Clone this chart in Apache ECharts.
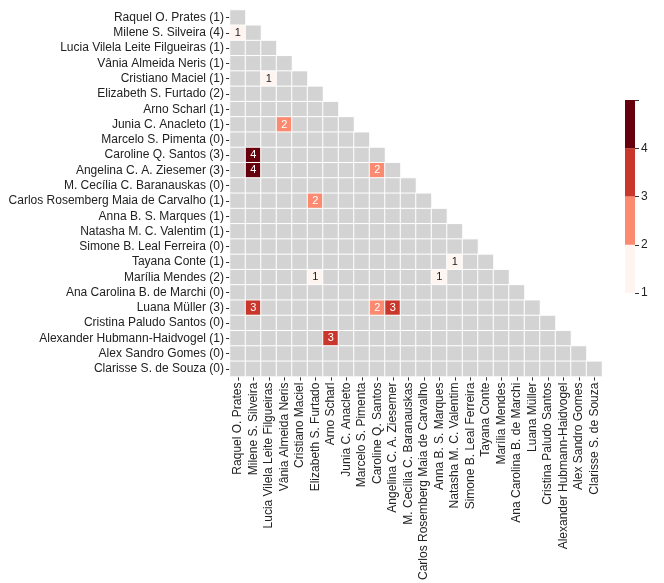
<!DOCTYPE html>
<html><head><meta charset="utf-8">
<script src="https://cdn.jsdelivr.net/npm/echarts@6/dist/echarts.min.js"></script>
<style>html,body{margin:0;padding:0;background:#fff}#c{width:664px;height:583px}</style>
</head><body><div id="c"></div>
<script>
const names = ["Raquel O. Prates","Milene S. Silveira","Lucia Vilela Leite Filgueiras","Vânia Almeida Neris","Cristiano Maciel","Elizabeth S. Furtado","Arno Scharl","Junia C. Anacleto","Marcelo S. Pimenta","Caroline Q. Santos","Angelina C. A. Ziesemer","M. Cecília C. Baranauskas","Carlos Rosemberg Maia de Carvalho","Anna B. S. Marques","Natasha M. C. Valentim","Simone B. Leal Ferreira","Tayana Conte","Marília Mendes","Ana Carolina B. de Marchi","Luana Müller","Cristina Paludo Santos","Alexander Hubmann-Haidvogel","Alex Sandro Gomes","Clarisse S. de Souza"];
const counts = [1,4,1,1,1,2,1,1,0,3,3,0,1,1,1,0,1,2,0,3,0,1,0,0];
// nonzero links: [rowIndex, colIndex, value]
const links = [[1,0,1],[4,2,1],[7,3,2],[9,1,4],[10,1,4],[10,9,2],[12,5,2],[16,14,1],[17,5,1],[17,13,1],[19,1,3],[19,9,2],[19,10,3],[21,6,3]];
const legendTicks = [1,2,3,4];
const binColors = ['#fff5f0','#fb8a71','#c9372c','#67000d'];

const yLabels = names.map((n,i)=>n+' ('+counts[i]+')');
const lookup = {};
links.forEach(l=>{lookup[l[0]+'_'+l[1]] = l[2];});
const data = [];
for (let i=0;i<names.length;i++){
  for (let j=0;j<=i;j++){
    const v = lookup[i+'_'+j] || 0;
    data.push({value:[j,i,v], label:{color: v===1 ? '#222' : '#fff'}});
  }
}
const chart = echarts.init(document.getElementById('c'));
const font = 'Liberation Sans, Arial, sans-serif';
chart.setOption({
  animation:false,
  backgroundColor:'#fff',
  grid:[
    {left:230, top:10, width:372, height:373},
    {left:625, top:100, width:10, height:193}
  ],
  xAxis:[
    {type:'category', gridIndex:0, data:names, position:'bottom',
     axisLine:{show:false}, axisTick:{show:true, alignWithLabel:true, length:4, lineStyle:{color:'#333'}},
     axisLabel:{rotate:90, interval:0, fontSize:12, color:'#222', fontFamily:font, margin:6},
     splitLine:{show:false}},
    {type:'category', gridIndex:1, data:['c'], show:false}
  ],
  yAxis:[
    {type:'category', gridIndex:0, data:yLabels, inverse:true,
     axisLine:{show:false}, axisTick:{show:true, alignWithLabel:true, length:4, lineStyle:{color:'#333'}},
     axisLabel:{interval:0, fontSize:12, color:'#222', fontFamily:font, margin:6},
     splitLine:{show:false}},
    {type:'value', gridIndex:1, min:1, max:5, interval:1, position:'right',
     axisLine:{show:false}, splitLine:{show:false},
     axisTick:{show:true, length:4, lineStyle:{color:'#333'}, inside:false},
     axisLabel:{fontSize:12, color:'#222', fontFamily:font, margin:6,
       formatter:v=> legendTicks.indexOf(v)>=0 ? String(v) : ''}}
  ],
  visualMap:{show:false, type:'piecewise', seriesIndex:0, dimension:2,
    pieces:[{value:0,color:'#d3d3d3'},{value:1,color:binColors[0]},{value:2,color:binColors[1]},{value:3,color:binColors[2]},{value:4,color:binColors[3]}]},
  series:[
    {type:'heatmap', xAxisIndex:0, yAxisIndex:0, data:data,
     itemStyle:{borderColor:'#fff', borderWidth:1},
     label:{show:true, fontSize:11, fontFamily:font,
       formatter:p=> p.value[2]>0 ? String(p.value[2]) : ''},
     emphasis:{disabled:true}},
    {type:'bar', xAxisIndex:1, yAxisIndex:1, stack:'cb', data:[1], barWidth:'100%', itemStyle:{color:'transparent'}, silent:true},
    ...binColors.map(c=>({type:'bar', xAxisIndex:1, yAxisIndex:1, stack:'cb', data:[1], barWidth:'100%', itemStyle:{color:c}, silent:true}))
  ]
});
</script></body></html>
